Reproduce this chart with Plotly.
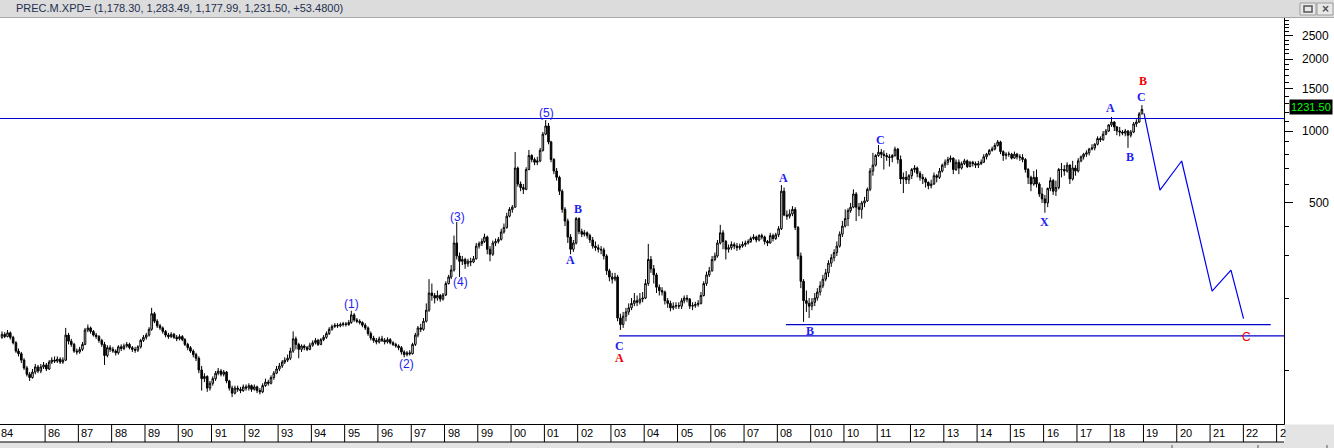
import math
import pandas as pd
import plotly.graph_objects as go

# ---------------- data (monthly, PREC.M.XPD) ----------------
start_month = "1984-09-01"
first_open = 137
close = [
    141, 138, 143, 137,
    130, 120, 117, 110, 102, 96, 93, 98, 103, 99, 103, 105,
    101, 108, 110, 109, 111, 108, 110, 140, 132, 128, 120, 119,
    122, 128, 147, 150, 145, 140, 138, 133, 128, 115, 124, 122,
    120, 118, 125, 123, 126, 128, 124, 122, 121, 125, 133, 137,
    140, 148, 172, 160, 153, 150, 145, 140, 138, 141, 137, 135,
    138, 134, 128, 124, 120, 116, 112, 100, 92, 94, 84, 88,
    92, 97, 99, 96, 98, 90, 84, 80, 84, 83, 82, 85,
    84, 86, 83, 85, 82, 81, 86, 89, 88, 93, 97, 101,
    104, 108, 110, 112, 120, 135, 128, 122, 126, 124, 122, 127,
    130, 133, 128, 134, 137, 142, 148, 152, 154, 153, 155, 156,
    155, 158, 170, 162, 160, 158, 154, 150, 142, 136, 133, 131,
    135, 133, 131, 134, 130, 128, 126, 124, 119, 116, 118, 117,
    128, 140, 150, 148, 160, 178, 210, 205, 200, 205, 198, 206,
    230, 245, 262, 340, 300, 285, 290, 278, 285, 283, 292, 330,
    338, 345, 360, 320, 305, 340, 345, 352, 378, 395, 440, 470,
    480, 700, 600, 580, 570, 690, 790, 760, 740, 750, 830, 970,
    1050, 900, 760, 680, 640, 560, 470, 420, 360, 320, 340, 430,
    380, 370, 375, 365, 350, 330, 325, 320, 318, 300, 260, 245,
    240, 245, 165, 155, 168, 175, 182, 190, 195, 192, 198, 200,
    230, 290, 265, 250, 222, 215, 212, 195, 190, 182, 185, 186,
    185, 195, 200, 198, 185, 186, 188, 190, 205, 230, 250, 260,
    290, 300, 340, 375, 345, 320, 325, 335, 330, 325, 330, 335,
    340, 345, 355, 360, 350, 365, 360, 345, 340, 365, 355, 368,
    390, 560, 445, 440, 450, 470, 395, 300, 235, 195, 190, 185,
    192, 200, 212, 225, 240, 255, 280, 295, 310, 330, 370, 400,
    430, 465, 480, 545, 480, 470, 500, 510, 570, 680, 720, 790,
    815, 800, 790, 780, 775, 790, 840, 760, 630, 640, 625, 650,
    690, 700, 665, 640, 630, 610, 590, 600, 650, 640, 680, 720,
    740, 760, 770, 690, 740, 700, 730, 750, 710, 740, 730, 720,
    730, 740, 780, 800, 830, 840, 870, 900, 820, 790, 800, 800,
    770, 800, 780, 775, 760, 690, 640, 600, 640, 600, 545, 520,
    500, 575, 620, 560, 580, 690, 690, 680, 720, 630, 700, 680,
    750, 780, 800, 810, 840, 850, 880, 930, 920, 970, 1000, 1060,
    1090, 1040, 1000, 990, 980, 1000, 960, 990, 1070, 1090, 1178.30, 1231.50,
]
high = [
    145, 144, 147, 145,
    139, 132, 123, 119, 112, 104, 98, 101, 106, 105, 106, 108,
    107, 110, 113, 114, 114, 113, 113, 150, 143, 135, 130, 123,
    125, 131, 150, 155, 152, 147, 143, 140, 135, 131, 127, 127,
    125, 122, 127, 128, 129, 131, 130, 126, 125, 127, 135, 140,
    143, 151, 182, 175, 163, 156, 152, 147, 143, 144, 143, 140,
    141, 140, 136, 130, 126, 122, 118, 114, 104, 97, 95, 90,
    94, 99, 102, 101, 100, 99, 91, 86, 86, 86, 85, 87,
    87, 88, 87, 87, 86, 84, 88, 92, 91, 95, 99, 104,
    107, 110, 113, 116, 124, 145, 138, 130, 128, 128, 126, 130,
    133, 136, 135, 136, 140, 145, 151, 155, 157, 157, 158, 159,
    159, 162, 177, 173, 165, 163, 160, 157, 152, 145, 139, 136,
    138, 139, 136, 137, 136, 132, 130, 128, 126, 121, 120, 121,
    130, 143, 153, 156, 165, 190, 240, 230, 210, 215, 208, 210,
    235, 250, 275, 365, 416, 310, 300, 295, 292, 295, 300, 340,
    345, 355, 372, 365, 330, 348, 355, 360, 390, 410, 455, 480,
    490, 817, 710, 615, 600, 705, 833, 800, 775, 780, 850, 990,
    1111, 1080, 910, 770, 700, 650, 570, 480, 430, 370, 350, 437,
    435, 390, 385, 380, 372, 360, 345, 335, 330, 325, 305, 265,
    255, 255, 250, 172, 175, 182, 190, 200, 210, 205, 210, 212,
    240, 337, 300, 275, 255, 228, 222, 215, 200, 195, 192, 192,
    192, 200, 205, 206, 200, 192, 193, 196, 212, 235, 258, 270,
    300, 310, 350, 405, 385, 350, 335, 345, 342, 340, 338, 345,
    348, 352, 362, 370, 365, 370, 372, 365, 350, 375, 372, 375,
    400, 594, 580, 465, 470, 485, 480, 400, 310, 240, 215, 200,
    200, 210, 220, 235, 250, 265, 288, 305, 320, 345, 380, 420,
    470, 475, 500, 570, 555, 500, 510, 530, 580, 700, 810, 800,
    874, 840, 830, 810, 800, 800, 860, 850, 790, 670, 680, 660,
    700, 720, 710, 680, 660, 640, 615, 625, 670, 660, 700, 730,
    760, 780, 790, 775, 760, 760, 745, 765, 760, 750, 750, 745,
    750, 760, 800, 810, 840, 860, 890, 917, 910, 830, 815, 820,
    810, 820, 810, 800, 800, 770, 700, 650, 680, 690, 610, 580,
    540, 580, 640, 630, 620, 700, 735, 720, 740, 725, 750, 720,
    770, 790, 810, 830, 850, 880, 890, 950, 950, 1000, 1020, 1070,
    1145, 1100, 1050, 1040, 1010, 1020, 1010, 1010, 1090, 1120, 1200, 1283.49,
]
low = [
    135, 136, 137, 134,
    128, 118, 114, 107, 100, 94, 90, 92, 96, 97, 97, 101,
    99, 100, 106, 107, 107, 106, 106, 109, 128, 125, 118, 116,
    117, 120, 127, 144, 142, 138, 135, 130, 125, 105, 113, 119,
    118, 115, 116, 120, 121, 124, 122, 119, 118, 119, 123, 131,
    134, 138, 146, 157, 150, 147, 142, 137, 135, 136, 135, 132,
    133, 132, 126, 121, 118, 113, 109, 97, 82, 89, 81, 82,
    86, 90, 95, 94, 94, 88, 82, 77, 79, 81, 80, 81,
    82, 82, 81, 82, 80, 79, 80, 85, 86, 87, 91, 96,
    99, 102, 106, 108, 110, 118, 122, 112, 119, 121, 120, 121,
    125, 128, 126, 127, 132, 135, 140, 146, 150, 150, 151, 152,
    152, 153, 156, 159, 157, 155, 151, 147, 139, 133, 130, 128,
    129, 131, 128, 129, 128, 126, 124, 121, 116, 113, 114, 115,
    116, 126, 137, 144, 146, 158, 175, 195, 190, 195, 193, 195,
    204, 228, 240, 258, 290, 245, 275, 265, 270, 272, 280, 290,
    322, 330, 340, 305, 285, 300, 330, 338, 348, 372, 390, 435,
    455, 478, 585, 560, 545, 565, 685, 740, 720, 720, 740, 820,
    960, 880, 740, 660, 620, 540, 455, 400, 340, 305, 312, 335,
    370, 360, 362, 355, 340, 322, 315, 310, 305, 290, 250, 235,
    230, 235, 160, 147, 150, 160, 170, 178, 185, 185, 188, 192,
    198, 225, 255, 230, 210, 205, 205, 188, 182, 176, 178, 180,
    180, 180, 190, 192, 180, 178, 182, 184, 188, 203, 225, 245,
    258, 285, 295, 335, 320, 290, 310, 318, 320, 315, 318, 325,
    328, 335, 340, 350, 342, 345, 352, 335, 330, 338, 345, 350,
    360, 385, 440, 425, 430, 440, 385, 290, 220, 159, 175, 165,
    178, 185, 195, 205, 220, 235, 245, 270, 285, 300, 325, 360,
    395, 400, 455, 475, 420, 440, 430, 480, 505, 560, 650, 710,
    780, 770, 690, 750, 710, 740, 780, 730, 600, 550, 600, 600,
    630, 670, 640, 620, 600, 580, 570, 575, 595, 610, 630, 670,
    700, 720, 740, 660, 680, 660, 690, 720, 700, 705, 710, 700,
    700, 720, 735, 760, 790, 820, 830, 860, 800, 750, 760, 780,
    760, 765, 760, 750, 740, 670, 600, 560, 590, 580, 530, 500,
    455, 480, 560, 540, 535, 570, 640, 650, 670, 600, 620, 650,
    670, 740, 760, 780, 790, 830, 830, 870, 900, 910, 960, 990,
    1040, 1000, 960, 950, 960, 950, 850, 940, 980, 1040, 1080, 1177.99,
]

header_text = "PREC.M.XPD= (1,178.30, 1,283.49, 1,177.99, 1,231.50, +53.4800)"

# year boxes along the bottom
box_years = list(range(1986, 2024))
box_labels = ["86", "87", "88", "89", "90", "91", "92", "93", "94", "95", "96", "97",
              "98", "99", "00", "01", "02", "03", "04", "05", "06", "07", "08", "010",
              "10", "11", "12", "13", "14", "15", "16", "17", "18", "19", "20", "21",
              "22", "2"]
first_box_label = "84"

# price axis
y_major = [500, 1000, 1500, 2000, 2500]
y_minor = [100, 200, 300, 400, 600, 700, 800, 900, 1100, 1200, 1300, 1400,
           1600, 1700, 1800, 1900, 2100, 2200, 2300, 2400, 2600, 2700, 2800, 2900]

# horizontal levels
level_values = [1128, 139, 154.7]
level_start = ["1984-08-20", "2003-03-31", "2008-04-05"]
level_end = ["2023-03-25", "2023-03-25", "2022-10-28"]

# projected path
proj_dates = ["2019-01-07", "2019-07-01", "2020-02-24", "2021-01-23", "2021-08-18", "2022-01-03"]
proj_values = [1186, 566, 749, 214, 262, 164]

# wave labels
label_text = ["(1)", "(2)", "(3)", "(4)", "(5)", "A", "B", "C", "A", "A", "B", "C",
              "X", "A", "B", "C", "B", "C"]
label_date = ["1995-03-18", "1996-11-05", "1998-05-18", "1998-06-20", "2001-01-27",
              "2001-10-18", "2002-01-09", "2003-04-10", "2003-04-10", "2008-03-07",
              "2008-12-25", "2011-02-08", "2016-01-16", "2018-01-06", "2018-08-06",
              "2018-12-15", "2018-12-29", "2022-01-30"]
label_value = [189, 106, 438, 234, 1193, 289, 470, 126, 112, 634, 145.6, 917,
               417, 1245, 781, 1392, 1624, 137.4]
label_color = ["blue", "blue", "blue", "blue", "blue", "blue", "blue", "blue", "red",
               "blue", "blue", "blue", "blue", "blue", "blue", "blue", "red", "red"]
label_kind = ["sans", "sans", "sans", "sans", "sans", "serif", "serif", "serif", "serif",
              "serif", "serif", "serif", "serif", "serif", "serif", "serif", "serif", "sans"]

# ---------------- figure ----------------
W, H = 1334, 448
L, R, T, B = 0, 50, 18, 24
PW, PH = W - L - R, H - T - B


def px_x(p):
    return (p - L) / PW


def px_y(p):
    return (H - B - p) / PH


n = len(close)
assert len(high) == n and len(low) == n
dates = pd.date_range(start_month, periods=n, freq="MS") + pd.Timedelta(days=14)
opens = [first_open] + close[:-1]
hi = [max(h, o, c) for h, o, c in zip(high, opens, close)]
lo = [min(l, o, c) for l, o, c in zip(low, opens, close)]

fig = go.Figure()
fig.add_trace(go.Candlestick(
    x=dates, open=opens, high=hi, low=lo, close=close,
    increasing=dict(line=dict(color="black", width=1), fillcolor="white"),
    decreasing=dict(line=dict(color="black", width=1), fillcolor="black"),
    whiskerwidth=0, hoverinfo="skip", showlegend=False,
))

for v, s, e in zip(level_values, level_start, level_end):
    fig.add_trace(go.Scatter(x=[s, e], y=[v, v], mode="lines",
                             line=dict(color="#0000CC", width=1.2),
                             hoverinfo="skip", showlegend=False))

fig.add_trace(go.Scatter(x=proj_dates, y=proj_values, mode="lines",
                         line=dict(color="#0000F0", width=1.2),
                         hoverinfo="skip", showlegend=False))

colors = {"blue": "#1E1EF0", "red": "#F00000"}
annotations = []
for t, d, v, c, k in zip(label_text, label_date, label_value, label_color, label_kind):
    if k == "serif":
        txt = "<b>" + t + "</b>"
        fam = "Liberation Serif, Times New Roman, serif"
    else:
        txt = t
        fam = "Liberation Sans, Arial, sans-serif"
    annotations.append(dict(x=d, y=math.log10(v), xref="x", yref="y", text=txt,
                            showarrow=False, xanchor="center", yanchor="middle",
                            font=dict(family=fam, size=12, color=colors[c])))

# right-axis labels (right aligned)
for v in y_major:
    annotations.append(dict(x=px_x(1331), y=math.log10(v), xref="paper", yref="y",
                            text=str(v), showarrow=False, xanchor="right", yanchor="middle",
                            font=dict(family="Liberation Sans, Arial, sans-serif", size=12, color="black")))

# last price tag
annotations.append(dict(x=px_x(1289), y=math.log10(close[-1]), xref="paper", yref="y",
                        yshift=2, text=f"{close[-1]:.2f}", showarrow=False,
                        xanchor="left", yanchor="middle", bgcolor="black", borderpad=1,
                        font=dict(family="Liberation Sans, Arial, sans-serif", size=11, color="#00FF00")))

# header text
annotations.append(dict(x=px_x(14), y=px_y(8.5), xref="paper", yref="paper",
                        text=header_text, showarrow=False, xanchor="left", yanchor="middle",
                        font=dict(family="Liberation Sans, Arial, sans-serif", size=11, color="#1F2F4F")))

# bottom year boxes
box_font = dict(family="Liberation Sans, Arial, sans-serif", size=11, color="black")
shapes = []
for yr, lab in zip(box_years, box_labels):
    d = f"{yr}-01-01"
    shapes.append(dict(type="line", xref="x", yref="paper", x0=d, x1=d,
                       y0=px_y(442), y1=px_y(424), line=dict(color="black", width=1)))
    annotations.append(dict(x=d, y=px_y(433), xref="x", yref="paper", text=lab,
                            showarrow=False, xanchor="left", yanchor="middle", xshift=1,
                            font=box_font))
annotations.append(dict(x=px_x(0), y=px_y(433), xref="paper", yref="paper",
                        text=first_box_label, showarrow=False, xanchor="left",
                        yanchor="middle", xshift=-1, font=box_font))

# header bar
shapes.append(dict(type="rect", xref="paper", yref="paper", x0=px_x(0), x1=px_x(W),
                   y0=px_y(17), y1=px_y(0), fillcolor="#DCDCDC", line=dict(width=0), layer="below"))
shapes.append(dict(type="line", xref="paper", yref="paper", x0=px_x(0), x1=px_x(W),
                   y0=px_y(17.5), y1=px_y(17.5), line=dict(color="#A8A8A8", width=1)))
# window buttons
for bx0, bx1 in [(1300, 1316), (1317, 1333)]:
    shapes.append(dict(type="rect", xref="paper", yref="paper", x0=px_x(bx0), x1=px_x(bx1),
                       y0=px_y(15), y1=px_y(3), fillcolor="#E8E8E8",
                       line=dict(color="#9C9C9C", width=1)))
shapes.append(dict(type="rect", xref="paper", yref="paper", x0=px_x(1304), x1=px_x(1312),
                   y0=px_y(12), y1=px_y(6), fillcolor="rgba(0,0,0,0)",
                   line=dict(color="#555555", width=1.5)))
annotations.append(dict(x=px_x(1325), y=px_y(9), xref="paper", yref="paper", text="<b>×</b>",
                        showarrow=False, xanchor="center", yanchor="middle",
                        font=dict(family="Liberation Sans, Arial", size=12, color="#555555")))

# bottom gray strip, bottom border of box row
shapes.append(dict(type="rect", xref="paper", yref="paper", x0=px_x(0), x1=px_x(W),
                   y0=px_y(H), y1=px_y(442), fillcolor="#E4E4E4", line=dict(width=0)))
shapes.append(dict(type="rect", xref="paper", yref="paper", x0=px_x(1284.5), x1=px_x(W),
                   y0=px_y(H), y1=px_y(424.5), fillcolor="#E4E4E4", line=dict(width=0)))
shapes.append(dict(type="line", xref="paper", yref="paper", x0=px_x(0), x1=px_x(1284),
                   y0=px_y(442), y1=px_y(442), line=dict(color="black", width=1)))
for sx in [1172, 1258, 1327]:
    shapes.append(dict(type="line", xref="paper", yref="paper", x0=px_x(sx), x1=px_x(sx),
                       y0=px_y(448), y1=px_y(445), line=dict(color="#555555", width=1)))

y_lo = 3 - (H - B - 131) / 239.0
y_hi = 3 + (131 - T) / 239.0

fig.update_layout(
    width=W, height=H,
    margin=dict(l=L, r=R, t=T, b=B, pad=0),
    paper_bgcolor="white", plot_bgcolor="white",
    showlegend=False,
    boxgap=0.12,
    annotations=annotations,
    shapes=shapes,
    xaxis=dict(type="date", range=["1984-08-24", "2023-03-23"], showgrid=False,
               zeroline=False, showticklabels=False, ticks="", showline=True,
               linecolor="black", linewidth=1, rangeslider=dict(visible=False),
               fixedrange=True),
    yaxis=dict(type="log", range=[y_lo, y_hi], side="right", showgrid=False,
               zeroline=False, showline=True, linecolor="black", linewidth=1,
               ticks="outside", ticklen=8, tickcolor="black", tickwidth=1,
               tickvals=y_major, showticklabels=False,
               minor=dict(tickvals=y_minor, ticks="outside", ticklen=4,
                          tickcolor="black", tickwidth=1, showgrid=False),
               fixedrange=True),
)

fig.write_html(
    "out.html",
    config={"displayModeBar": False},
    post_script="document.body.style.margin='0px';document.body.style.overflow='hidden';",
)
